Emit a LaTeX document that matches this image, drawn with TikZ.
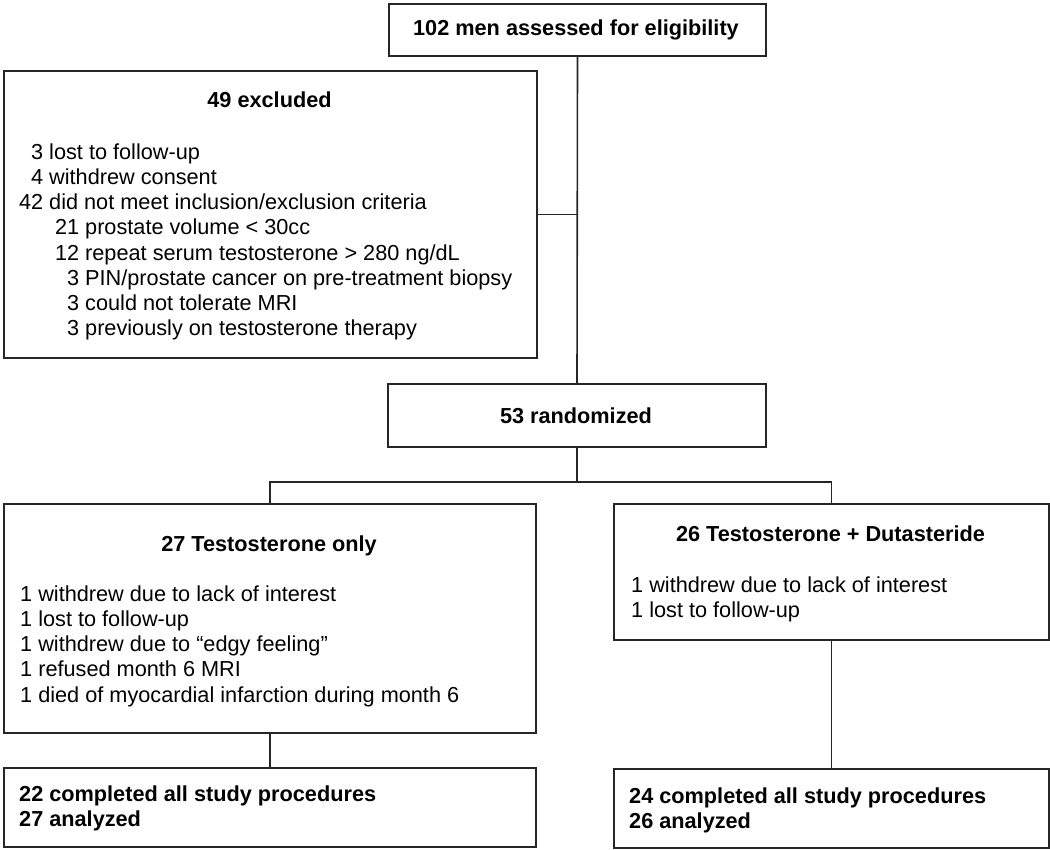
\documentclass[tikz,border=0pt]{standalone}
\usepackage{fontspec}
\setmainfont{Liberation Sans}
\usetikzlibrary{positioning}

% indented list entries, numbers set flush right
\newcommand{\lvlone}[2]{\makebox[25pt][r]{#1}\ #2}
\newcommand{\lvltwo}[2]{\makebox[61pt][r]{#1}\ #2}

\begin{document}
\begin{tikzpicture}[x=1pt, y=-1pt,
  box/.style={draw=black!85, line width=2pt, rectangle, anchor=north west, inner sep=0pt},
  conn/.style={draw=black!85, line width=1.6pt},
  txt/.style={font=\fontsize{21.7}{25.2}\selectfont, inner sep=0pt},
  head/.style={txt, font=\fontsize{21.7}{25.2}\selectfont\bfseries, anchor=base}]
\useasboundingbox (0,0) rectangle (1050,850);
%
\node[box, minimum width=377pt, minimum height=52pt] (assess) at (388,3) {};
\node[box, minimum width=533pt, minimum height=287pt] (excl) at (3,70) {};
\node[box, minimum width=378pt, minimum height=63pt] (rand) at (387,383) {};
\node[box, minimum width=532pt, minimum height=229pt] (tonly) at (3,503) {};
\node[box, minimum width=435pt, minimum height=136pt] (tdut) at (613,503) {};
\node[box, minimum width=532pt, minimum height=79pt] (tonlyend) at (3,767) {};
\node[box, minimum width=435pt, minimum height=79pt] (tdutend) at (613,768) {};
%
\node[head] (assesstxt) at (576,36) {102 men assessed for eligibility};
\node[head] (excltxt) at (269.5,108) {49 excluded};
\node[txt, anchor=north west] (excllist) at (18,141.4) {\begin{tabular}{@{}l@{}}
  \lvlone{3}{lost to follow-up}\\
  \lvlone{4}{withdrew consent}\\
  \lvlone{42}{did not meet inclusion/exclusion criteria}\\
  \lvltwo{21}{prostate volume < 30cc}\\
  \lvltwo{12}{repeat serum testosterone > 280 ng/dL}\\
  \lvltwo{3}{PIN/prostate cancer on pre-treatment biopsy}\\
  \lvltwo{3}{could not tolerate MRI}\\
  \lvltwo{3}{previously on testosterone therapy}
\end{tabular}};
\node[head] (randtxt) at (576,423) {53 randomized};
%
\node[head] (tonlytxt) at (269,551) {27 Testosterone only};
\node[txt, anchor=north west] (tonlylist) at (20,583.4) {\begin{tabular}{@{}l@{}}
  1 withdrew due to lack of interest\\
  1 lost to follow-up\\
  1 withdrew due to ``edgy feeling''\\
  1 refused month 6 MRI\\
  1 died of myocardial infarction during month 6
\end{tabular}};
\node[head] (tduttxt) at (830.5,541) {26 Testosterone + Dutasteride};
\node[txt, anchor=north west] (tdutlist) at (631,574.4) {\begin{tabular}{@{}l@{}}
  1 withdrew due to lack of interest\\
  1 lost to follow-up
\end{tabular}};
%
\node[txt, font=\fontsize{21.7}{25.2}\selectfont\bfseries, anchor=north west] (tonlyendtxt) at (19,783.4) {\begin{tabular}{@{}l@{}}
  22 completed all study procedures\\
  27 analyzed
\end{tabular}};
\node[txt, font=\fontsize{21.7}{25.2}\selectfont\bfseries, anchor=north west] (tdutendtxt) at (629,785.4) {\begin{tabular}{@{}l@{}}
  24 completed all study procedures\\
  26 analyzed
\end{tabular}};
%
\draw[conn] (assess.south) -- (rand.north);
\draw[conn] (excl.east) -- (excl.east -| assess.south);
\coordinate (split) at ([yshift=-34pt]rand.south);
\draw[conn] (rand.south) -- (split);
\draw[conn] (tonly.north) |- (split) -| (tdut.north);
\draw[conn] (tonly.south) -- (tonlyend.north);
\draw[conn] (tdut.south) -- (tdutend.north);
%
\end{tikzpicture}
\end{document}
